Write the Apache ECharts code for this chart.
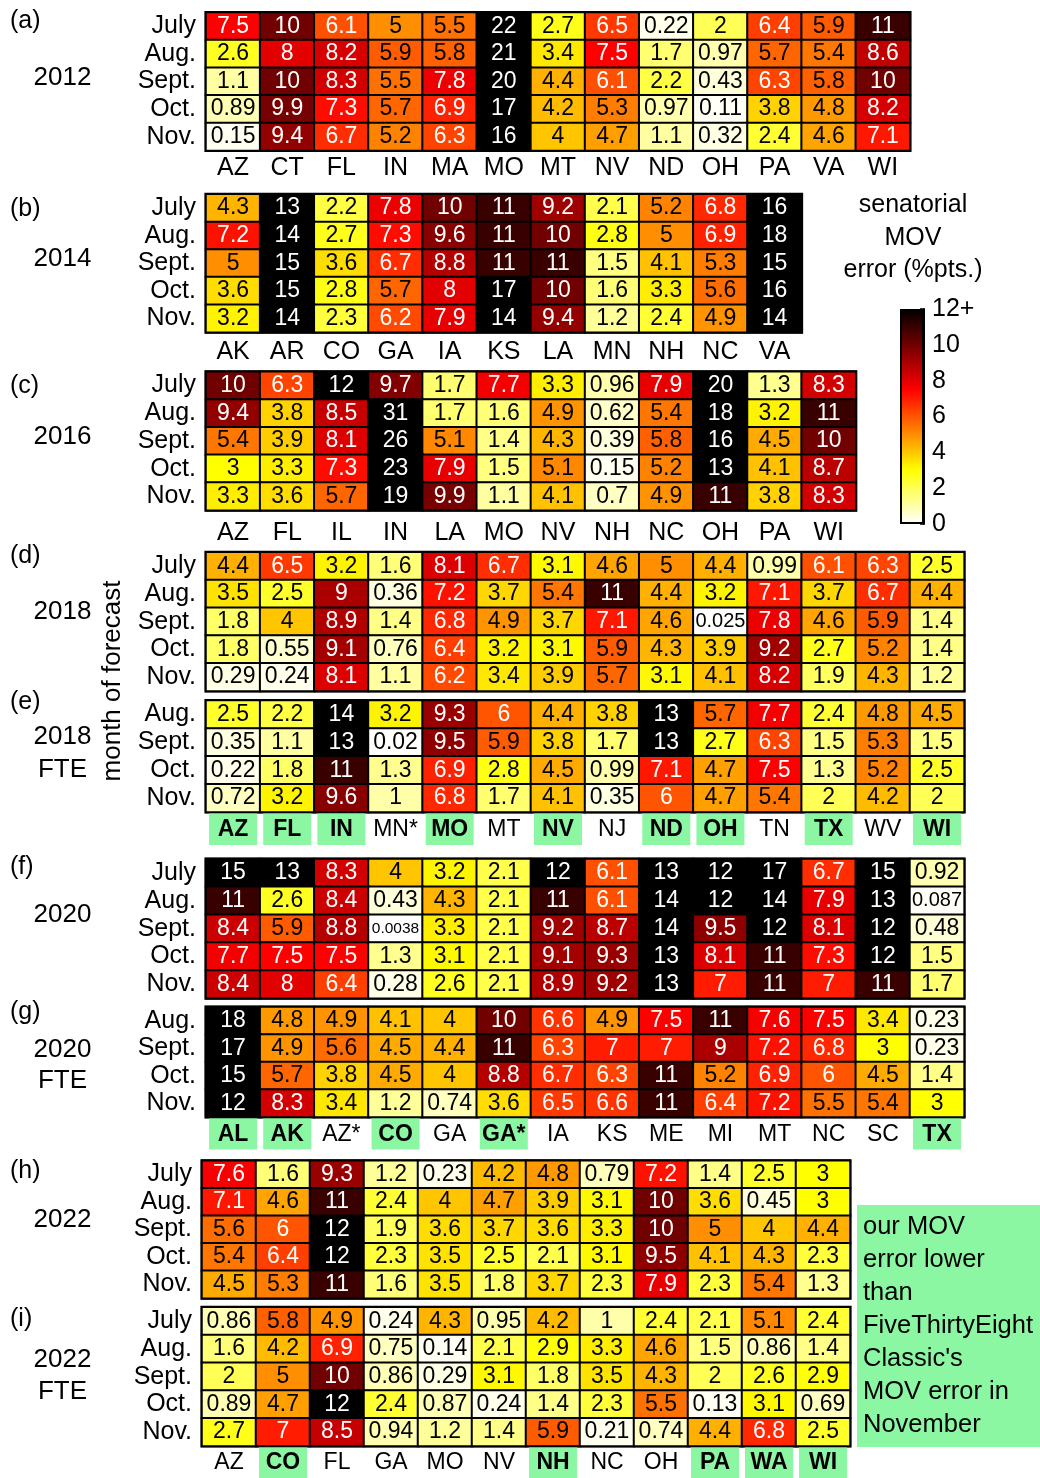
<!DOCTYPE html>
<html><head><meta charset="utf-8">
<script src="https://cdn.jsdelivr.net/npm/echarts@6/dist/echarts.min.js"></script>
<style>html,body{margin:0;padding:0;background:#fff}#c{width:1040px;height:1478px}</style>
</head><body><div id="c"></div>
<script>
const FONT = '"Liberation Sans", Arial, Helvetica, sans-serif';
const GREEN = '#8cf7a2';

const monthsFull = ['July', 'Aug.', 'Sept.', 'Oct.', 'Nov.'];
const monthsFTE = ['Aug.', 'Sept.', 'Oct.', 'Nov.'];

const states2012 = ['AZ','CT','FL','IN','MA','MO','MT','NV','ND','OH','PA','VA','WI'];
const err2012 = [
  [7.5,10,6.1,5,5.5,22,2.7,6.5,0.22,2,6.4,5.9,11],
  [2.6,8,8.2,5.9,5.8,21,3.4,7.5,1.7,0.97,5.7,5.4,8.6],
  [1.1,10,8.3,5.5,7.8,20,4.4,6.1,2.2,0.43,6.3,5.8,10],
  [0.89,9.9,7.3,5.7,6.9,17,4.2,5.3,0.97,0.11,3.8,4.8,8.2],
  [0.15,9.4,6.7,5.2,6.3,16,4,4.7,1.1,0.32,2.4,4.6,7.1]
];

const states2014 = ['AK','AR','CO','GA','IA','KS','LA','MN','NH','NC','VA'];
const err2014 = [
  [4.3,13,2.2,7.8,10,11,9.2,2.1,5.2,6.8,16],
  [7.2,14,2.7,7.3,9.6,11,10,2.8,5,6.9,18],
  [5,15,3.6,6.7,8.8,11,11,1.5,4.1,5.3,15],
  [3.6,15,2.8,5.7,8,17,10,1.6,3.3,5.6,16],
  [3.2,14,2.3,6.2,7.9,14,9.4,1.2,2.4,4.9,14]
];

const states2016 = ['AZ','FL','IL','IN','LA','MO','NV','NH','NC','OH','PA','WI'];
const err2016 = [
  [10,6.3,12,9.7,1.7,7.7,3.3,0.96,7.9,20,1.3,8.3],
  [9.4,3.8,8.5,31,1.7,1.6,4.9,0.62,5.4,18,3.2,11],
  [5.4,3.9,8.1,26,5.1,1.4,4.3,0.39,5.8,16,4.5,10],
  [3,3.3,7.3,23,7.9,1.5,5.1,0.15,5.2,13,4.1,8.7],
  [3.3,3.6,5.7,19,9.9,1.1,4.1,0.7,4.9,11,3.8,8.3]
];

const states2018 = ['AZ','FL','IN','MN*','MO','MT','NV','NJ','ND','OH','TN','TX','WV','WI'];
const err2018 = [
  [4.4,6.5,3.2,1.6,8.1,6.7,3.1,4.6,5,4.4,0.99,6.1,6.3,2.5],
  [3.5,2.5,9,0.36,7.2,3.7,5.4,11,4.4,3.2,7.1,3.7,6.7,4.4],
  [1.8,4,8.9,1.4,6.8,4.9,3.7,7.1,4.6,0.025,7.8,4.6,5.9,1.4],
  [1.8,0.55,9.1,0.76,6.4,3.2,3.1,5.9,4.3,3.9,9.2,2.7,5.2,1.4],
  [0.29,0.24,8.1,1.1,6.2,3.4,3.9,5.7,3.1,4.1,8.2,1.9,4.3,1.2]
];
const fte2018 = [
  [2.5,2.2,14,3.2,9.3,6,4.4,3.8,13,5.7,7.7,2.4,4.8,4.5],
  [0.35,1.1,13,0.02,9.5,5.9,3.8,1.7,13,2.7,6.3,1.5,5.3,1.5],
  [0.22,1.8,11,1.3,6.9,2.8,4.5,0.99,7.1,4.7,7.5,1.3,5.2,2.5],
  [0.72,3.2,9.6,1,6.8,1.7,4.1,0.35,6,4.7,5.4,2,4.2,2]
];
const better2018 = ['AZ','FL','IN','MO','NV','ND','OH','TX','WI'];

const states2020 = ['AL','AK','AZ*','CO','GA','GA*','IA','KS','ME','MI','MT','NC','SC','TX'];
const err2020 = [
  [15,13,8.3,4,3.2,2.1,12,6.1,13,12,17,6.7,15,0.92],
  [11,2.6,8.4,0.43,4.3,2.1,11,6.1,14,12,14,7.9,13,0.087],
  [8.4,5.9,8.8,0.0038,3.3,2.1,9.2,8.7,14,9.5,12,8.1,12,0.48],
  [7.7,7.5,7.5,1.3,3.1,2.1,9.1,9.3,13,8.1,11,7.3,12,1.5],
  [8.4,8,6.4,0.28,2.6,2.1,8.9,9.2,13,7,11,7,11,1.7]
];
const fte2020 = [
  [18,4.8,4.9,4.1,4,10,6.6,4.9,7.5,11,7.6,7.5,3.4,0.23],
  [17,4.9,5.6,4.5,4.4,11,6.3,7,7,9,7.2,6.8,3,0.23],
  [15,5.7,3.8,4.5,4,8.8,6.7,6.3,11,5.2,6.9,6,4.5,1.4],
  [12,8.3,3.4,1.2,0.74,3.6,6.5,6.6,11,6.4,7.2,5.5,5.4,3]
];
const better2020 = ['AL','AK','CO','GA*','TX'];

const states2022 = ['AZ','CO','FL','GA','MO','NV','NH','NC','OH','PA','WA','WI'];
const err2022 = [
  [7.6,1.6,9.3,1.2,0.23,4.2,4.8,0.79,7.2,1.4,2.5,3],
  [7.1,4.6,11,2.4,4,4.7,3.9,3.1,10,3.6,0.45,3],
  [5.6,6,12,1.9,3.6,3.7,3.6,3.3,10,5,4,4.4],
  [5.4,6.4,12,2.3,3.5,2.5,2.1,3.1,9.5,4.1,4.3,2.3],
  [4.5,5.3,11,1.6,3.5,1.8,3.7,2.3,7.9,2.3,5.4,1.3]
];
const fte2022 = [
  [0.86,5.8,4.9,0.24,4.3,0.95,4.2,1,2.4,2.1,5.1,2.4],
  [1.6,4.2,6.9,0.75,0.14,2.1,2.9,3.3,4.6,1.5,0.86,1.4],
  [2,5,10,0.86,0.29,3.1,1.8,3.5,4.3,2,2.6,2.9],
  [0.89,4.7,12,2.4,0.87,0.24,1.4,2.3,5.5,0.13,3.1,0.69],
  [2.7,7,8.5,0.94,1.2,1.4,5.9,0.21,0.74,4.4,6.8,2.5]
];
const better2022 = ['CO','NH','PA','WA','WI'];

const cbMax = 12;
const cbTicks = [0, 2, 4, 6, 8, 10, 12];

// reversed "hot" colormap, capped at cbMax
function hotR(v) {
  const t = 1 - Math.min(Math.max(v, 0), cbMax) / cbMax;
  const r = Math.min(1, t / 0.375);
  const g = Math.min(1, Math.max(0, (t - 0.375) / 0.375));
  const b = Math.max(0, (t - 0.75) / 0.25);
  return 'rgb(' + Math.round(r * 255) + ',' + Math.round(g * 255) + ',' + Math.round(b * 255) + ')';
}

const CW = 54.15;
const panels = [
  { states: states2012, months: monthsFull, vals: err2012, left: 206, top: 12.5, h: 138, xl: { margin: 5 } },
  { states: states2014, months: monthsFull, vals: err2014, left: 206, top: 194.3, h: 138, xl: { margin: 7 } },
  { states: states2016, months: monthsFull, vals: err2016, left: 206, top: 371.7, h: 138.6, xl: { margin: 10 } },
  { states: states2018, months: monthsFull, vals: err2018, left: 206, top: 552.3, h: 138.7, xl: null },
  { states: states2018, months: monthsFTE, vals: fte2018, left: 206, top: 700.5, h: 111.5, xl: { hl: better2018, margin: 2 } },
  { states: states2020, months: monthsFull, vals: err2020, left: 206, top: 859, h: 139.3, xl: null },
  { states: states2020, months: monthsFTE, vals: fte2020, left: 206, top: 1007, h: 110, xl: { hl: better2020, margin: 1.5 } },
  { states: states2022, months: monthsFull, vals: err2022, left: 202, top: 1160.7, h: 137.6, cw: 54, xl: null },
  { states: states2022, months: monthsFull, vals: fte2022, left: 202, top: 1307.3, h: 138.7, cw: 54, xl: { hl: better2022, margin: 1 } }
];

const grids = [], xAxes = [], yAxes = [], series = [];
panels.forEach(function (p, i) {
  const cw = p.cw || CW;
  grids.push({ left: p.left, top: p.top, width: cw * p.states.length, height: p.h, show: true,
    borderColor: '#000', borderWidth: 3, backgroundColor: 'transparent', containLabel: false });
  let axisLabel;
  if (!p.xl) {
    axisLabel = { show: false };
  } else if (!p.xl.hl) {
    axisLabel = { show: true, interval: 0, margin: p.xl.margin, fontSize: 25, lineHeight: 25,
      color: '#000', fontFamily: FONT };
  } else {
    const hl = p.xl.hl;
    axisLabel = { show: true, interval: 0, margin: p.xl.margin, fontSize: 23, color: '#000', fontFamily: FONT,
      formatter: function (s) { return hl.indexOf(s) >= 0 ? '{h|' + s + '}' : '{n|' + s + '}'; },
      rich: {
        h: { fontSize: 23, fontWeight: 'bold', fontFamily: FONT, color: '#000', backgroundColor: GREEN,
             width: 48, height: 30, lineHeight: 30, align: 'center', padding: [2, 0, 0, 0] },
        n: { fontSize: 23, fontFamily: FONT, color: '#000', height: 30, lineHeight: 30, padding: [2, 0, 0, 0] }
      } };
  }
  xAxes.push({ type: 'category', gridIndex: i, data: p.states, position: 'bottom',
    axisLine: { show: false }, axisTick: { show: false }, splitLine: { show: false }, axisLabel: axisLabel });
  yAxes.push({ type: 'category', gridIndex: i, data: p.months, inverse: true,
    axisLine: { show: false }, axisTick: { show: false }, splitLine: { show: false },
    axisLabel: { show: true, interval: 0, margin: 10, fontSize: 25, color: '#000', fontFamily: FONT,
      padding: [0, 0, 9, 0] } });
  const data = [];
  p.vals.forEach(function (row, r) {
    row.forEach(function (v, c) {
      const s = String(v);
      const fs = s.length >= 6 ? 15.5 : (s.length === 5 ? 20 : 23);
      data.push({ value: [c, r, v], itemStyle: { color: hotR(v) },
        label: { color: v >= 6 ? '#fff' : '#000', fontSize: fs } });
    });
  });
  series.push({ type: 'heatmap', xAxisIndex: i, yAxisIndex: i, data: data,
    itemStyle: { borderColor: '#000', borderWidth: 2 },
    label: { show: true, fontFamily: FONT, fontSize: 23, padding: [0, 0, 2, 0],
      formatter: function (q) { return String(q.value[2]); } },
    emphasis: { disabled: true }, progressive: 0, animation: false });
});

// colorbar
const cbIdx = panels.length;
const stops = [];
for (let k = 0; k <= 24; k++) {
  const v = cbMax - k * cbMax / 24;
  stops.push({ offset: k / 24, color: hotR(v) });
}
grids.push({ left: 900, top: 309, width: 24, height: 215, show: false, containLabel: false });
xAxes.push({ type: 'category', gridIndex: cbIdx, data: [''], show: false });
yAxes.push({ type: 'value', gridIndex: cbIdx, min: 0, max: cbMax, interval: 2, position: 'right',
  axisLine: { show: true, lineStyle: { color: '#000', width: 2 } },
  axisTick: { show: true, inside: true, length: 4, lineStyle: { color: '#000', width: 1.5 } },
  splitLine: { show: false },
  axisLabel: { show: true, margin: 8, fontSize: 25, color: '#000', fontFamily: FONT,
    formatter: function (v) { return cbTicks.indexOf(v) < 0 ? '' : (v === cbMax ? cbMax + '+' : String(v)); } } });
series.push({ type: 'bar', xAxisIndex: cbIdx, yAxisIndex: cbIdx, data: [cbMax], barWidth: '100%',
  itemStyle: { color: new echarts.graphic.LinearGradient(0, 0, 0, 1, stops), borderColor: '#000', borderWidth: 2 },
  emphasis: { disabled: true }, animation: false, silent: true });

function txt(text, x, y, opt) {
  opt = opt || {};
  return { type: 'text', x: x, y: y, rotation: opt.rot || 0, z: 100,
    style: { text: text, fill: '#000', fontSize: opt.fs || 25, fontFamily: FONT, fontWeight: opt.fw || 'normal',
      lineHeight: opt.lh || 30,
      align: opt.align || 'left', textAlign: opt.align || 'left',
      verticalAlign: 'middle', textVerticalAlign: 'middle' } };
}

const graphics = [
  txt('(a)', 10, 21.5), txt('(b)', 10, 209), txt('(c)', 10, 386), txt('(d)', 10, 556),
  txt('(e)', 10, 702.5), txt('(f)', 10, 866.7), txt('(g)', 10, 1012.5), txt('(h)', 10, 1171), txt('(i)', 10, 1319),
  txt('2012', 62.5, 78, { align: 'center', fs: 26 }),
  txt('2014', 62.5, 259, { align: 'center', fs: 26 }),
  txt('2016', 62.5, 436.7, { align: 'center', fs: 26 }),
  txt('2018', 62.5, 611.7, { align: 'center', fs: 26 }),
  txt('2018\nFTE', 62.5, 753, { align: 'center', fs: 26, lh: 33 }),
  txt('2020', 62.5, 915.3, { align: 'center', fs: 26 }),
  txt('2020\nFTE', 62.5, 1065, { align: 'center', fs: 26, lh: 31 }),
  txt('2022', 62.5, 1220.3, { align: 'center', fs: 26 }),
  txt('2022\nFTE', 62.5, 1376, { align: 'center', fs: 26, lh: 32 }),
  txt('month of forecast', 113, 681, { align: 'center', fs: 26, rot: Math.PI / 2 }),
  txt('senatorial\nMOV\nerror (%pts.)', 913, 238, { align: 'center', fs: 25, lh: 32.5 }),
  { type: 'rect', x: 857, y: 1205, z: 90, shape: { width: 183, height: 242 }, style: { fill: GREEN } },
  txt('our MOV\nerror lower\nthan\nFiveThirtyEight\nClassic\'s\nMOV error in\nNovember', 863, 1326, { fs: 25.5, lh: 33 })
];

const chart = echarts.init(document.getElementById('c'), null, { renderer: 'canvas' });
chart.setOption({
  animation: false,
  backgroundColor: '#fff',
  textStyle: { fontFamily: FONT },
  grid: grids, xAxis: xAxes, yAxis: yAxes, series: series, graphic: graphics
});
</script></body></html>
